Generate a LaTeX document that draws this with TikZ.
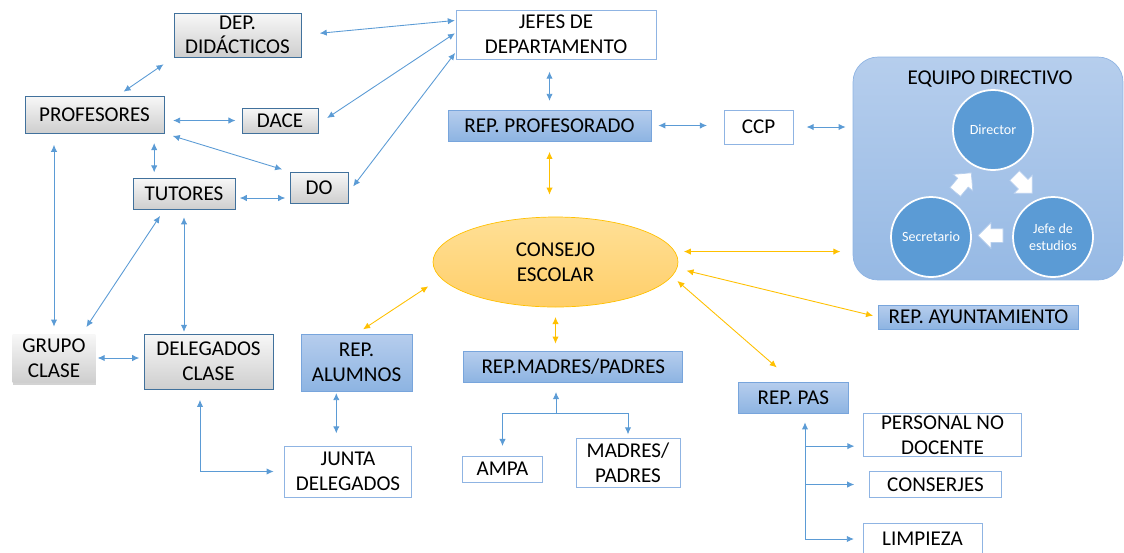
\documentclass[tikz,border=0pt]{standalone}
\usepackage{fontspec}
\setmainfont{Carlito}
\usetikzlibrary{calc,arrows.meta,shapes.geometric,shapes.arrows,shadows}

\definecolor{lineblue}{RGB}{91,155,213}
\definecolor{lineorange}{RGB}{255,192,0}
\definecolor{grayedge}{RGB}{65,113,156}
\definecolor{paleedge}{RGB}{143,180,227}
\definecolor{repedge}{RGB}{120,165,220}
\definecolor{reptop}{RGB}{182,205,237}
\definecolor{repbot}{RGB}{141,180,226}
\definecolor{eqtop}{RGB}{182,206,237}
\definecolor{eqbot}{RGB}{150,185,228}
\definecolor{orgtop}{RGB}{255,224,150}
\definecolor{orgbot}{RGB}{255,206,105}
\definecolor{orgedge}{RGB}{255,192,0}
\definecolor{circfill}{RGB}{91,155,213}

\begin{document}
\begin{tikzpicture}[x=0.02cm, y=-0.02cm,
    font=\fontsize{12}{14}\selectfont,
    box/.style={rectangle, align=center, inner sep=1pt},
    graybox/.style={box, draw=grayedge, top color=gray!6, bottom color=gray!38},
    repbox/.style={box, draw=repedge, top color=reptop, bottom color=repbot},
    whitebox/.style={box, draw=paleedge, fill=white},
    member/.style={circle, draw=white, line width=1pt, fill=circfill, text=white,
      minimum size=1.6cm, align=center, font=\fontsize{8}{9.5}\selectfont},
    turn/.style={single arrow, draw=eqtop, fill=white, minimum height=0.5cm,
      inner xsep=0pt, inner ysep=0.13cm, single arrow head extend=0.12cm},
    biarr/.style={lineblue, line width=0.5pt,
      {Latex[length=4pt,width=3.6pt]}-{Latex[length=4pt,width=3.6pt]},
      shorten <=3pt, shorten >=3pt},
    uparr/.style={lineblue, line width=0.5pt, -{Latex[length=4pt,width=3.6pt]}},
    biorg/.style={biarr, lineorange}]
    \useasboundingbox (0,0) rectangle (1124,552);
    \clip (0,0) rectangle (1124,552);

    % profesorado
    \node[graybox, minimum width=2.54cm, minimum height=0.88cm] (dep) at (237.5,35) {DEP.\\DIDÁCTICOS};
    \node[whitebox, minimum width=4.0cm, minimum height=0.98cm] (jefes) at (556,34.5) {JEFES DE\\DEPARTAMENTO};
    \node[graybox, minimum width=2.78cm, minimum height=0.74cm] (prof) at (94.5,114.5) {PROFESORES};
    \node[graybox, minimum width=1.52cm, minimum height=0.5cm] (dace) at (280,120.5) {DACE};
    \node[graybox, minimum width=2.04cm, minimum height=0.62cm] (tut) at (184,193.5) {TUTORES};
    \node[graybox, minimum width=1.16cm, minimum height=0.62cm] (do) at (319,187.5) {DO};
    \node[repbox, minimum width=4.06cm, minimum height=0.62cm] (repprof) at (549.5,125.5) {REP. PROFESORADO};
    \node[whitebox, minimum width=1.38cm, minimum height=0.68cm] (ccp) at (758.5,127) {CCP};

    % equipo directivo
    \node[rectangle, rounded corners=0.5cm, draw=paleedge, top color=eqtop, bottom color=eqbot,
      minimum width=5.4cm, minimum height=4.46cm] (equipo) at (988,168.5) {};
    \node (eqtitle) at (990,79) {EQUIPO DIRECTIVO};
    \node[member] (director) at (993,130) {Director};
    \node[member] (secret) at (931,237) {Secretario};
    \node[member] (jefest) at (1053,237) {Jefe de\\estudios};
    \node[turn, rotate=50] (turna) at (961,185) {};
    \node[turn, rotate=-45] (turnb) at (1021,182) {};
    \node[turn, rotate=180] (turnc) at (994,235.5) {};

    % consejo escolar y representantes
    \node[ellipse, draw=orgedge, top color=orgtop, bottom color=orgbot, align=center,
      minimum width=4.9cm, minimum height=1.8cm] (consejo) at (555.5,262) {CONSEJO\\ESCOLAR};
    \node[graybox, draw=none, drop shadow={opacity=0.35, shadow xshift=0.5pt, shadow yshift=-1.5pt},
      minimum width=1.66cm, minimum height=0.96cm] (grupo) at (54,358) {GRUPO\\CLASE};
    \node[graybox, minimum width=2.58cm, minimum height=1.1cm] (delc) at (208.5,361.5) {DELEGADOS\\CLASE};
    \node[repbox, minimum width=2.22cm, minimum height=1.14cm] (repal) at (356.5,362.5) {REP.\\ALUMNOS};
    \node[whitebox, minimum width=2.54cm, minimum height=1.02cm] (junta) at (348,471.5) {JUNTA\\DELEGADOS};
    \node[repbox, minimum width=4.38cm, minimum height=0.62cm] (repmp) at (573.3,366.5) {REP.MADRES/PADRES};
    \node[whitebox, minimum width=1.6cm, minimum height=0.52cm] (ampa) at (502.5,469) {AMPA};
    \node[whitebox, minimum width=2.08cm, minimum height=0.98cm] (madres) at (628,462.7) {MADRES/\\PADRES};
    \node[repbox, minimum width=2.2cm, minimum height=0.62cm] (reppas) at (793.3,397.7) {REP. PAS};
    \node[repbox, minimum width=4.0cm, minimum height=0.48cm] (repay) at (978.5,317) {REP. AYUNTAMIENTO};
    \node[whitebox, minimum width=3.16cm, minimum height=0.86cm] (pnd) at (942.5,435) {PERSONAL NO\\DOCENTE};
    \node[whitebox, minimum width=2.64cm, minimum height=0.52cm] (cons) at (935.5,484.5) {CONSERJES};
    \node[whitebox, minimum width=2.38cm, minimum height=0.64cm] (limp) at (922.5,539) {LIMPIEZA};
    \coordinate (mpjoin) at (556,413);
    \coordinate (pasjoin) at (805,539);

    % conexiones azules
    \draw[biarr, shorten <=4pt, shorten >=7pt] (prof.39) -- (dep.south west);
    \draw[biarr, shorten <=10.5pt, shorten >=0.5pt] (dep.east) -- (jefes.172);
    \draw[biarr, shorten <=0.5pt, shorten >=6pt] (jefes.179) -- (dace.-5);
    \draw[biarr, shorten <=0.5pt, shorten >=4.5pt] (jefes.190) -- (do.-10);
    \draw[biarr, shorten <=5pt, shorten >=3.5pt] (dace.west -| prof.east) -- (dace.west);
    \draw[biarr, shorten <=5pt, shorten >=4.5pt] (prof.south east) -- (do.north west);
    \draw[biarr, shorten <=5.5pt, shorten >=3pt] (tut.152 |- prof.south) -- (tut.152);
    \draw[biarr, shorten <=2.5pt, shorten >=2.5pt] (tut.-5) -- (tut.-5 -| do.west);
    \draw[biarr, shorten <=6.5pt, shorten >=4pt] (grupo.north |- prof.south) -- (grupo.north);
    \draw[biarr, shorten <=4.5pt, shorten >=4.5pt] (tut.219) -- (grupo.41);
    \draw[biarr, shorten <=4.5pt, shorten >=1pt] (tut.south) -- (tut.south |- delc.north);
    \draw[biarr, shorten <=1pt, shorten >=2.5pt] (grupo.east) -- (grupo.east -| delc.west);
    \draw[biarr, shorten <=6pt, shorten >=6pt] (delc.253) |- (junta.west);
    \draw[biarr, shorten <=1pt, shorten >=7pt] (repal.235) -- (repal.235 |- junta.north);
    \draw[biarr, shorten <=5pt, shorten >=7pt] (repprof.north) -- (repprof.north |- jefes.south);
    \draw[biarr, shorten <=4pt, shorten >=9.5pt] (repprof.east) -- (repprof.east -| ccp.west);
    \draw[biarr, shorten <=7.5pt, shorten >=4pt] (ccp.east) -- (ccp.east -| equipo.west);

    % conexiones del consejo
    \draw[biorg, shorten <=6pt, shorten >=12.5pt] (repprof.south) -- (repprof.south |- consejo.north);
    \draw[biorg, shorten <=8.5pt, shorten >=4.5pt] (consejo.188) -- (repal.north);
    \draw[biorg, shorten <=5.5pt, shorten >=4pt] (consejo.south) -- (consejo.south |- repmp.north);
    \draw[biorg, shorten <=4pt, shorten >=12.5pt] (consejo.-7) -- (reppas.north);
    \draw[biorg, shorten <=5.5pt, shorten >=3pt] (consejo.-3) -- (repay.west);
    \draw[biorg, shorten <=5pt, shorten >=7pt] (consejo.5) -- (consejo.5 -| equipo.west);

    % ramas
    \draw[uparr, shorten >=5.5pt] (mpjoin) -- (mpjoin |- repmp.south);
    \draw[uparr, shorten >=5.5pt] (mpjoin) -| (ampa.north);
    \draw[uparr, shorten >=2pt] (mpjoin) -| (madres.north);
    \draw[uparr, shorten >=5pt] (pasjoin) -- (pasjoin |- reppas.south);
    \draw[uparr, shorten >=5pt] (pasjoin |- pnd.188) -- (pnd.188);
    \draw[uparr, shorten >=8.5pt] (pasjoin |- cons.west) -- (cons.west);
    \draw[uparr, shorten >=5pt] (pasjoin) -- (limp.west);
\end{tikzpicture}
\end{document}
